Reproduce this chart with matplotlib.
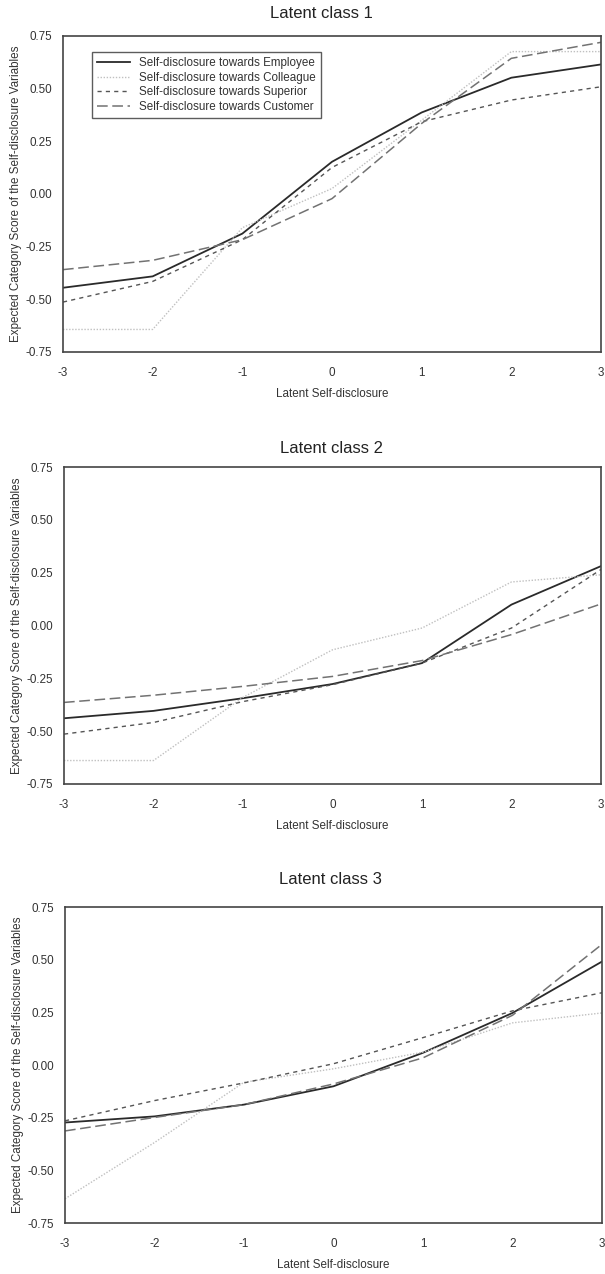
import numpy as np
import matplotlib
matplotlib.use("Agg")
import matplotlib.pyplot as plt

plt.rcParams['font.family'] = ['Liberation Sans', 'DejaVu Sans']
plt.rcParams['axes.unicode_minus'] = False

x = [-3, -2, -1, 0, 1, 2, 3]

# class 1
employee_1 = [-0.445, -0.391, -0.188, 0.153, 0.387, 0.552, 0.615]
colleague_1 = [-0.643, -0.643, -0.160, 0.026, 0.350, 0.676, 0.676]
superior_1 = [-0.513, -0.415, -0.217, 0.126, 0.343, 0.446, 0.509]
customer_1 = [-0.359, -0.315, -0.217, -0.022, 0.335, 0.644, 0.720]

# class 2
employee_2 = [-0.439, -0.404, -0.344, -0.277, -0.178, 0.099, 0.281]
colleague_2 = [-0.639, -0.639, -0.340, -0.115, -0.012, 0.206, 0.240]
superior_2 = [-0.514, -0.459, -0.360, -0.280, -0.178, -0.012, 0.265]
customer_2 = [-0.364, -0.330, -0.288, -0.241, -0.166, -0.043, 0.102]

# class 3
employee_3 = [-0.273, -0.244, -0.188, -0.101, 0.058, 0.247, 0.491]
colleague_3 = [-0.635, -0.368, -0.082, -0.018, 0.061, 0.200, 0.247]
superior_3 = [-0.265, -0.169, -0.085, 0.006, 0.130, 0.257, 0.343]
customer_3 = [-0.313, -0.249, -0.188, -0.090, 0.034, 0.236, 0.573]

labels = ["Self-disclosure towards Employee", "Self-disclosure towards Colleague",
          "Self-disclosure towards Superior", "Self-disclosure towards Customer"]
titles = ["Latent class 1", "Latent class 2", "Latent class 3"]
yticks = [-0.75, -0.50, -0.25, 0.00, 0.25, 0.50, 0.75]

styles = [
    dict(color='#2a2a2a', lw=1.3, ls='-'),
    dict(color='#c0c0c0', lw=1.0, ls=(0, (1, 1.2))),
    dict(color='#555555', lw=1.0, ls=(0, (3, 3))),
    dict(color='#727272', lw=1.1, ls=(0, (7, 3))),
]

data = [
    [employee_1, colleague_1, superior_1, customer_1],
    [employee_2, colleague_2, superior_2, customer_2],
    [employee_3, colleague_3, superior_3, customer_3],
]

fig = plt.figure(figsize=(6.05, 12.74), dpi=100)
W, H = 605, 1274
# axes boxes in pixels: left, top, right, bottom
boxes = [(63, 36, 601, 352), (64, 467, 601, 784), (65, 907, 602, 1223)]
title_pos = [(321, 14), (331, 449), (330, 879)]
txt = '#333333'
fs = 8.4

for i, (l, t, r, b) in enumerate(boxes):
    ax = fig.add_axes([l / W, 1 - b / H, (r - l) / W, (b - t) / H])
    for series, st in zip(data[i], styles):
        ax.plot(x, series, **st)
    ax.set_xlim(-3, 3)
    ax.set_ylim(-0.75, 0.75)
    ax.set_xticks(x)
    ax.set_xticklabels([str(v) for v in x])
    ax.set_yticks(yticks)
    ax.set_yticklabels(["%.2f" % v for v in yticks])
    ax.tick_params(length=0, labelsize=fs, colors=txt)
    ax.tick_params(axis='x', pad=11)
    ax.tick_params(axis='y', pad=8)
    for s in ax.spines.values():
        s.set_color('#444444')
        s.set_linewidth(1.2)
    ax.set_xlabel("Latent Self-disclosure", fontsize=fs, color=txt, labelpad=6)
    ax.set_ylabel("Expected Category Score of the Self-disclosure Variables",
                  fontsize=fs, color=txt, labelpad=2.5)
    fig.text(title_pos[i][0] / W, 1 - title_pos[i][1] / H, titles[i],
             fontsize=12, color='#222222', ha='center', va='center')
    if i == 0:
        leg = ax.legend(labels, loc='upper left', bbox_to_anchor=(0.054, 0.95),
                        fontsize=fs, frameon=True, fancybox=False,
                        handlelength=2.8, labelspacing=0.22, borderpad=0.45,
                        handletextpad=0.8, borderaxespad=0)
        leg.get_frame().set_edgecolor('#333333')
        leg.get_frame().set_linewidth(1.0)
        for t in leg.get_texts():
            t.set_color(txt)

fig.savefig("out.png", dpi=100)
